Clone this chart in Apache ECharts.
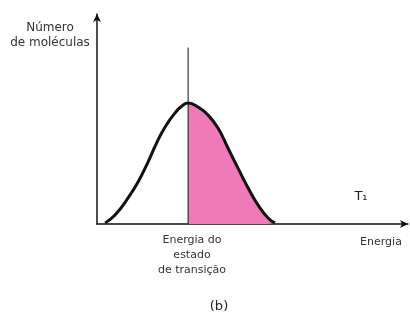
<!DOCTYPE html>
<html>
<head>
<meta charset="utf-8">
<script src="https://cdn.jsdelivr.net/npm/echarts@6/dist/echarts.min.js"></script>
<style>
  html, body { margin: 0; padding: 0; background: #fff; }
  #chart { width: 410px; height: 320px; }
</style>
</head>
<body>
<div id="chart"></div>
<script>
// Energy distribution of molecules (arbitrary units)
const energy = [2.6, 5.8, 10.0, 13.2, 16.4, 19.3, 21.9, 25.1, 27.5, 29.3, 32.5, 35.7, 38.9, 42.1, 45.3, 48.6, 51.8, 55.0, 57.2];
const molecules = [0.5, 4.3, 12.4, 20.0, 29.5, 39.0, 46.2, 52.9, 56.4, 57.6, 55.7, 51.9, 45.7, 36.2, 26.7, 17.1, 9.0, 2.9, 0.5];
// Transition-state energy and height of its marker line
const transitionEnergy = 29.3;
const markerTop = 84;
const yLabel = 'Número\nde moléculas';
const xLabel = 'Energia';
const transitionLabel = 'Energia do\nestado\nde transição';
const tempLabel = 'T₁';
const panelLabel = '(b)';

const curve = energy.map((e, i) => [e, molecules[i]]);
const shaded = curve.filter(p => p[0] >= transitionEnergy);

const chart = echarts.init(document.getElementById('chart'));
const font = '"DejaVu Sans", "Liberation Sans", Arial, sans-serif';
chart.setOption({
  animation: false,
  grid: { left: 97, right: 2, top: 14, bottom: 96 },
  xAxis: {
    type: 'value', min: 0, max: 100,
    axisLine: { show: true, symbol: ['none', 'arrow'], symbolSize: [6, 8], lineStyle: { color: '#111', width: 1.5 } },
    axisTick: { show: false }, axisLabel: { show: false }, splitLine: { show: false }
  },
  yAxis: {
    type: 'value', min: 0, max: 100,
    axisLine: { show: true, symbol: ['none', 'arrow'], symbolSize: [6, 8], lineStyle: { color: '#111', width: 1.5 } },
    axisTick: { show: false }, axisLabel: { show: false }, splitLine: { show: false }
  },
  series: [
    {
      type: 'line', data: shaded, smooth: 0.5, symbol: 'none',
      lineStyle: { width: 0 }, areaStyle: { color: '#f07ab8', opacity: 1 }, z: 1
    },
    {
      type: 'line', data: [[transitionEnergy, 0], [transitionEnergy, markerTop]],
      symbol: 'none', lineStyle: { color: '#111', width: 1 }, z: 2
    },
    {
      type: 'line', data: curve, smooth: 0.5, symbol: 'none',
      lineStyle: { color: '#111', width: 3 }, z: 3
    }
  ],
  graphic: [
    { type: 'text', x: 50, y: 20, style: { text: yLabel, font: '12px ' + font, fill: '#333', align: 'center', lineHeight: 15 } },
    { type: 'text', x: 192, y: 233, style: { text: transitionLabel, font: '11px ' + font, fill: '#333', align: 'center', lineHeight: 15 } },
    { type: 'text', x: 381, y: 237, style: { text: xLabel, font: '11px ' + font, fill: '#333', align: 'center' } },
    { type: 'text', x: 361, y: 190, style: { text: tempLabel, font: '13px ' + font, fill: '#222', align: 'center' } },
    { type: 'text', x: 219, y: 300, style: { text: panelLabel, font: '13px ' + font, fill: '#222', align: 'center' } }
  ]
});
</script>
</body>
</html>
